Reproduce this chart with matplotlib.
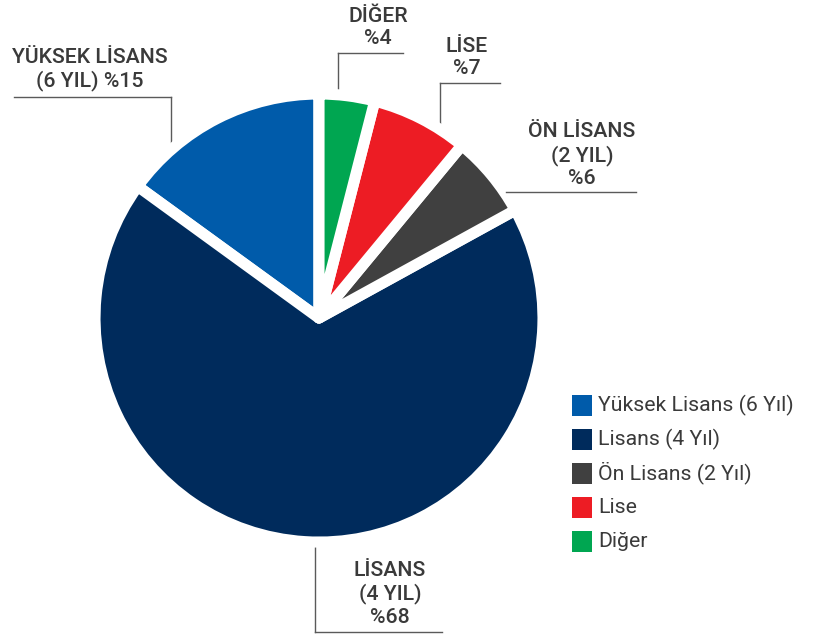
import numpy as np
import matplotlib.pyplot as plt
from matplotlib.patches import Rectangle

# Eğitim durumu dağılımı (%)
categories = ['Yüksek Lisans (6 Yıl)', 'Lisans (4 Yıl)', 'Ön Lisans (2 Yıl)', 'Lise', 'Diğer']
label_names = ['YÜKSEK LİSANS\n(6 YIL)', 'LİSANS\n(4 YIL)', 'ÖN LİSANS\n(2 YIL)', 'LİSE', 'DİĞER']
shares = [15, 68, 6, 7, 4]
colors = ['#005BAA', '#002B5C', '#404040', '#ED1C24', '#00A651']

W, H = 813, 636
plt.rcParams['font.family'] = ['Roboto', 'DejaVu Sans']

fig = plt.figure(figsize=(W / 100, H / 100), dpi=100)
ax = fig.add_axes([0, 0, 1, 1])

cx, cy, R = 319, H - 318, 224
explode = [0.025, 0.085, 0.025, 0.025, 0.025]
wedges, _ = ax.pie(shares, colors=colors, startangle=90, counterclock=True,
                   center=(cx, cy), radius=R, explode=explode,
                   wedgeprops=dict(edgecolor='white', linewidth=8, joinstyle='round'))
ax.set_xlim(0, W)
ax.set_ylim(0, H)
ax.set_aspect('equal')
ax.axis('off')

# etiket yerleşimi: (metin merkezi x, metin y, çizgi y, çizgi uç x, dilimdeki konum oranı, yön)
label_layout = [
    (90, 91, 97, 14, 0.78, 'up'),
    (390, 561, 632, 442, 0.51, 'down'),
    (582, 188, 192, 636, 0.15, 'up'),
    (467, 78, 83, 500, 0.26, 'up'),
    (378, 48, 53, 403, 0.65, 'up'),
]

text_color = '#3a3a3a'
line_color = '#5a5a5a'
for w, name, val, (tx, ty, ly, lx_end, frac, side) in zip(wedges, label_names, shares, label_layout):
    sep = ' ' if name.startswith('YÜKSEK') else '\n'
    label = f'{name}{sep}%{val}'
    ang = np.deg2rad(w.theta1 + frac * (w.theta2 - w.theta1))
    r_edge = w.r - 3
    ax_x = w.center[0] + r_edge * np.cos(ang)
    ax_y = w.center[1] + r_edge * np.sin(ang)
    line_y = H - ly
    ax.plot([ax_x, ax_x], [ax_y, line_y], color=line_color, lw=1, zorder=0)
    ax.plot([ax_x, lx_end], [line_y, line_y], color=line_color, lw=1)
    va = 'bottom' if side == 'up' else 'top'
    ax.text(tx, H - ty, label, ha='center', va=va, fontsize=15.3,
            fontweight='medium', color=text_color, linespacing=1.22)

# lejant: renk kutusu + metin, eşit satır aralığıyla
leg_x, leg_y, row_h, box = 572, 405.5, 33.9, 21
for i, (cat, col) in enumerate(zip(categories, colors)):
    y = H - (leg_y + i * row_h)
    ax.add_patch(Rectangle((leg_x, y - box / 2), box - 1, box, facecolor=col, edgecolor='none'))
    ax.text(leg_x + box + 5, y - 6, cat, ha='left', va='baseline', fontsize=15.3, color=text_color)

fig.savefig('out.png', dpi=100)
